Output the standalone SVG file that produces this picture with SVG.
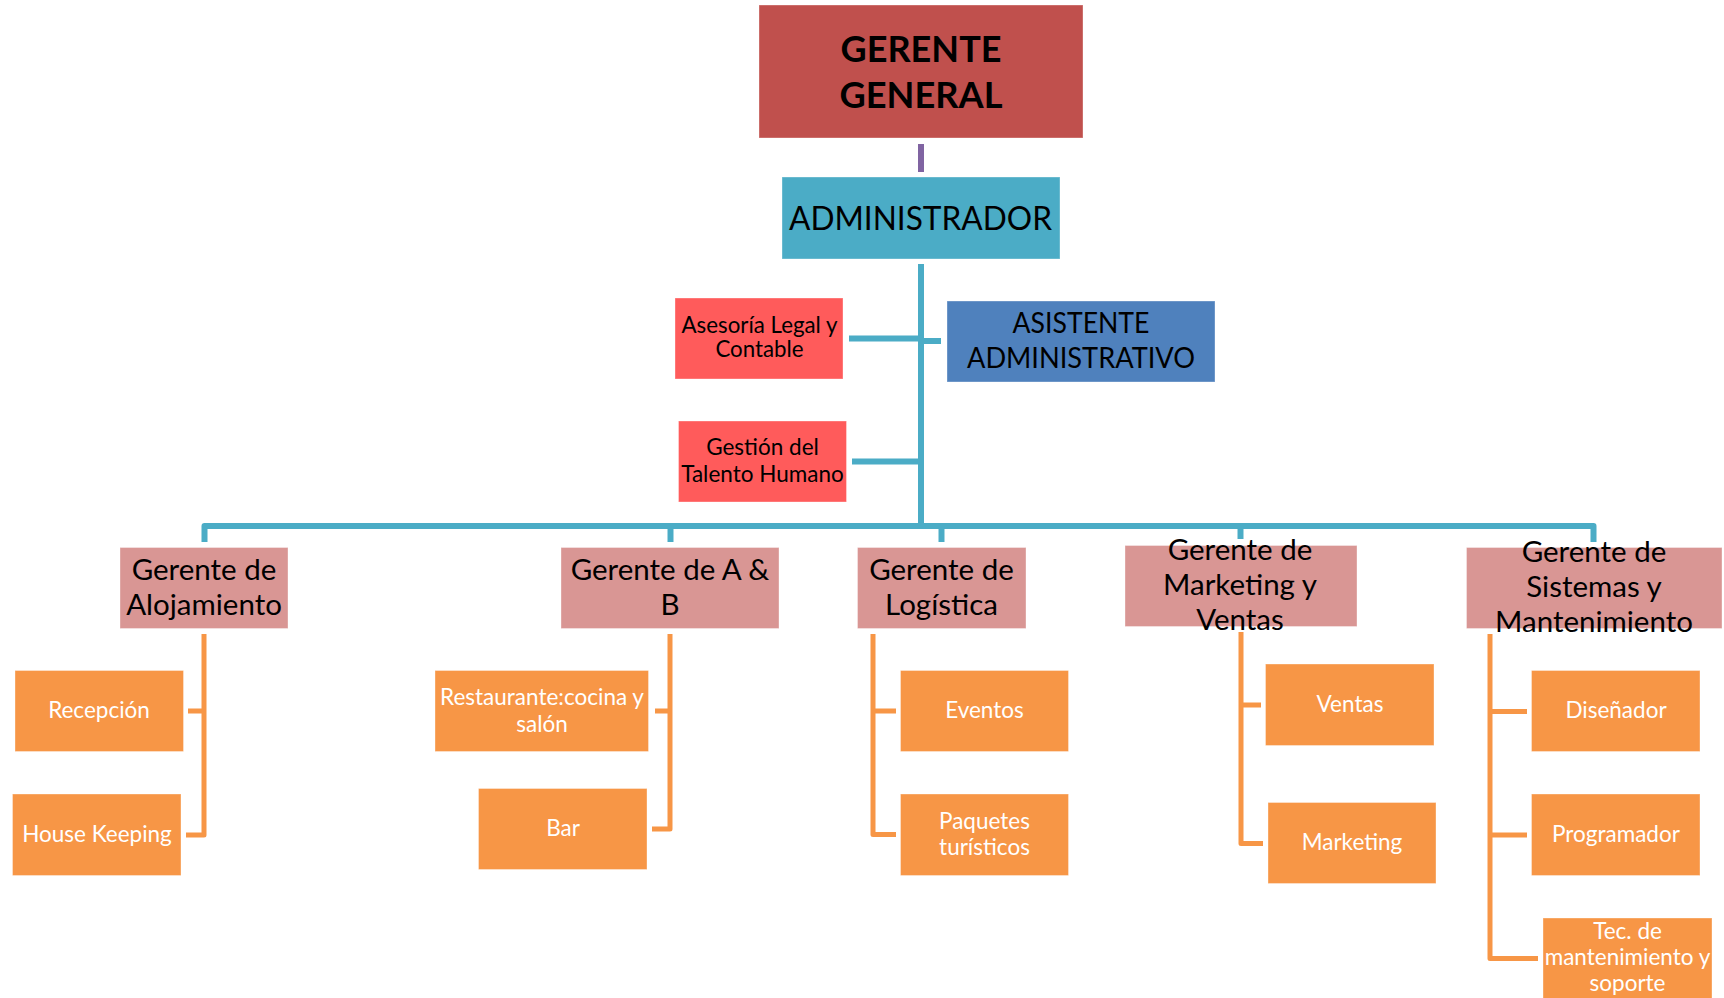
<svg xmlns="http://www.w3.org/2000/svg" width="1724" height="998" viewBox="0 0 1724 998">
  <style>
    .box { stroke: #ffffff; stroke-opacity: 0.35; stroke-width: 1; }
    .t { font-family: Lato, "Liberation Sans", sans-serif; text-anchor: middle; }
    .dark { fill: #000000; }
    .light { fill: #ffffff; }
    .mgr { font-size: 29.5px; }
    .staff { font-size: 22.5px; }
    .teal { fill: none; stroke: #4BACC6; stroke-width: 6; stroke-linejoin: round; }
    .orange { fill: none; stroke: #F79646; stroke-width: 5; stroke-linejoin: round; }
  </style>

  <rect width="1724" height="998" fill="#ffffff"/>

  <!-- connectors -->
  <g id="connectors">
    <line x1="921" y1="144" x2="921" y2="172" stroke="#8064A2" stroke-width="6"/>
    <path class="teal" d="M921,264 V526"/>
    <path class="teal" d="M849,338.5 H921"/>
    <path class="teal" d="M921,341 H941"/>
    <path class="teal" d="M852,461.5 H921"/>
    <path class="teal" d="M204.5,542 V526 H1593.5 V542"/>
    <path class="teal" d="M670.5,526 V542"/>
    <path class="teal" d="M941.5,526 V542"/>
    <path class="teal" d="M1240.5,526 V539"/>

    <path class="orange" d="M204,634 V835 H186 M204,711 H188"/>
    <path class="orange" d="M670,634 V829 H652 M670,711 H655"/>
    <path class="orange" d="M873,634 V834.5 H896 M873,711 H896"/>
    <path class="orange" d="M1241,632 V843.5 H1263 M1241,705 H1261"/>
    <path class="orange" d="M1490,634 V958.5 H1538 M1490,711.5 H1527 M1490,835 H1527"/>
  </g>

  <!-- top level -->
  <g id="gerente-general">
    <rect class="box" x="759" y="5" width="324" height="133" fill="#C0504D"/>
    <text class="t dark" x="921" y="62" font-size="37" font-weight="bold" textLength="161" lengthAdjust="spacingAndGlyphs">GERENTE</text>
    <text class="t dark" x="921" y="108" font-size="37" font-weight="bold" textLength="163" lengthAdjust="spacingAndGlyphs">GENERAL</text>
  </g>

  <g id="administrador">
    <rect class="box" x="782" y="177" width="278" height="82" fill="#4BACC6"/>
    <text class="t dark" x="920.5" y="230" font-size="32" textLength="263" lengthAdjust="spacingAndGlyphs">ADMINISTRADOR</text>
  </g>

  <g id="asistente-administrativo">
    <rect class="box" x="947" y="301" width="268" height="81" fill="#4F81BD"/>
    <text class="t dark" x="1081" y="333" font-size="28" textLength="137" lengthAdjust="spacingAndGlyphs">ASISTENTE</text>
    <text class="t dark" x="1081" y="368" font-size="28" textLength="228" lengthAdjust="spacingAndGlyphs">ADMINISTRATIVO</text>
  </g>

  <g id="asesoria">
    <rect class="box" x="675" y="298" width="168" height="81" fill="#FF5B5B"/>
    <text class="t dark" x="759.5" y="333" font-size="22.3">Asesoría Legal y</text>
    <text class="t dark" x="759.5" y="357" font-size="22.3">Contable</text>
  </g>

  <g id="talento-humano">
    <rect class="box" x="678.5" y="421" width="168" height="81" fill="#FF5B5B"/>
    <text class="t dark" x="762.5" y="455" font-size="22.5">Gestión del</text>
    <text class="t dark" x="762.5" y="481.5" font-size="22.5">Talento Humano</text>
  </g>

  <!-- managers -->
  <g id="gerente-alojamiento">
    <rect class="box" x="120" y="547.5" width="168" height="81" fill="#D99694"/>
    <text class="t dark mgr" x="204" y="580">Gerente de</text>
    <text class="t dark mgr" x="204" y="615">Alojamiento</text>
  </g>

  <g id="gerente-ab">
    <rect class="box" x="561" y="547.5" width="218" height="81" fill="#D99694"/>
    <text class="t dark mgr" x="670" y="580">Gerente de A &amp;</text>
    <text class="t dark mgr" x="670" y="615">B</text>
  </g>

  <g id="gerente-logistica">
    <rect class="box" x="857.5" y="547.5" width="168.5" height="81" fill="#D99694"/>
    <text class="t dark mgr" x="941.5" y="580">Gerente de</text>
    <text class="t dark mgr" x="941.5" y="615">Logística</text>
  </g>

  <g id="gerente-marketing">
    <rect class="box" x="1125" y="545.5" width="232" height="81" fill="#D99694"/>
    <text class="t dark mgr" x="1240" y="560">Gerente de</text>
    <text class="t dark mgr" x="1240" y="595">Marketing y</text>
    <text class="t dark mgr" x="1240" y="630">Ventas</text>
  </g>

  <g id="gerente-sistemas">
    <rect class="box" x="1466.5" y="547.5" width="255.5" height="81" fill="#D99694"/>
    <text class="t dark mgr" x="1594" y="561.5">Gerente de</text>
    <text class="t dark mgr" x="1594" y="596.5">Sistemas y</text>
    <text class="t dark mgr" x="1594" y="631.5">Mantenimiento</text>
  </g>

  <!-- staff -->
  <g id="recepcion">
    <rect class="box" x="15" y="670.5" width="168.5" height="81" fill="#F79646"/>
    <text class="t light staff" x="99" y="718">Recepción</text>
  </g>

  <g id="house-keeping">
    <rect class="box" x="12.5" y="794" width="168.5" height="81.5" fill="#F79646"/>
    <text class="t light staff" x="97" y="842">House Keeping</text>
  </g>

  <g id="restaurante">
    <rect class="box" x="435" y="670.5" width="213.5" height="81" fill="#F79646"/>
    <text class="t light staff" x="542" y="705">Restaurante:cocina y</text>
    <text class="t light staff" x="542" y="731.5">salón</text>
  </g>

  <g id="bar">
    <rect class="box" x="478.5" y="788.5" width="168.5" height="81" fill="#F79646"/>
    <text class="t light staff" x="563" y="836">Bar</text>
  </g>

  <g id="eventos">
    <rect class="box" x="900.5" y="670.5" width="168" height="81" fill="#F79646"/>
    <text class="t light staff" x="984.5" y="717.5">Eventos</text>
  </g>

  <g id="paquetes">
    <rect class="box" x="900.5" y="794" width="168" height="81.5" fill="#F79646"/>
    <text class="t light staff" x="984.5" y="828.5">Paquetes</text>
    <text class="t light staff" x="984.5" y="854.5">turísticos</text>
  </g>

  <g id="ventas">
    <rect class="box" x="1265.5" y="664" width="168.5" height="81.5" fill="#F79646"/>
    <text class="t light staff" x="1350" y="711.5">Ventas</text>
  </g>

  <g id="marketing">
    <rect class="box" x="1268" y="802.5" width="168" height="81" fill="#F79646"/>
    <text class="t light staff" x="1352" y="850">Marketing</text>
  </g>

  <g id="disenador">
    <rect class="box" x="1531.5" y="670.5" width="168.5" height="81" fill="#F79646"/>
    <text class="t light staff" x="1616" y="717.5">Diseñador</text>
  </g>

  <g id="programador">
    <rect class="box" x="1531.5" y="794" width="168.5" height="81.5" fill="#F79646"/>
    <text class="t light staff" x="1616" y="841.5">Programador</text>
  </g>

  <g id="tecnico">
    <rect class="box" x="1543" y="918" width="169" height="82" fill="#F79646"/>
    <text class="t light staff" x="1627.5" y="938.5">Tec. de</text>
    <text class="t light staff" x="1627.5" y="965">mantenimiento y</text>
    <text class="t light staff" x="1627.5" y="991">soporte</text>
  </g>
</svg>
